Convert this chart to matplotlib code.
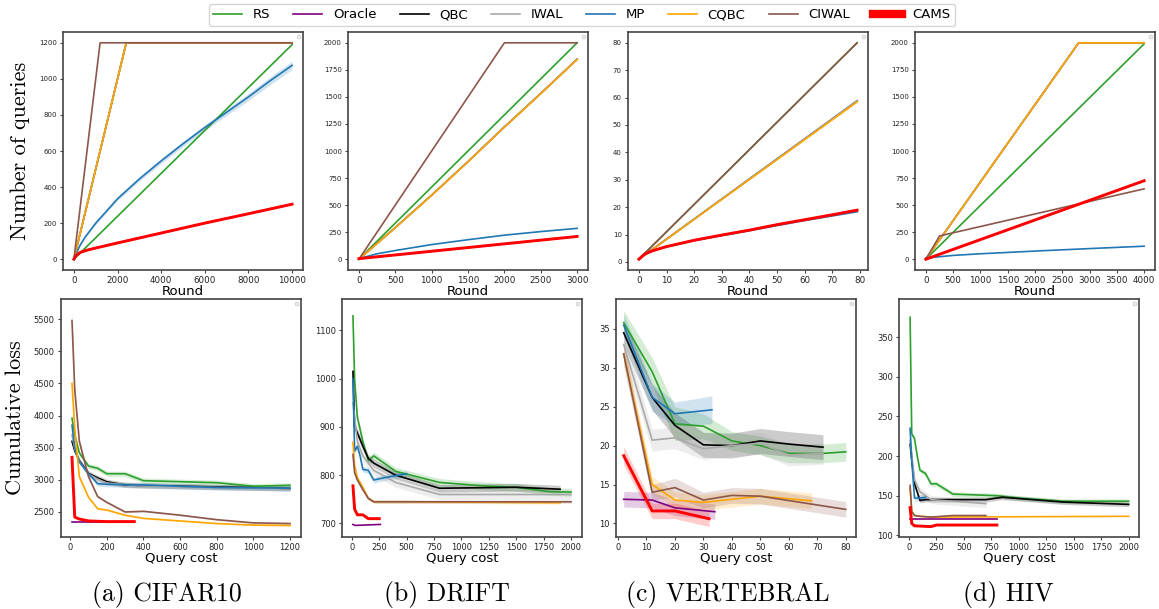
import matplotlib
matplotlib.use("Agg")
from matplotlib import pyplot as plt
from matplotlib.lines import Line2D
import numpy as np

methods = ["RS", "Oracle", "QBC", "IWAL", "MP", "CQBC", "CIWAL", "CAMS"]
colors = {"RS": "tab:green", "Oracle": "purple", "QBC": "black", "IWAL": "darkgray",
          "MP": "tab:blue", "CQBC": "orange", "CIWAL": "tab:brown", "CAMS": "red"}
captions = ["(a) CIFAR10", "(b) DRIFT", "(c) VERTEBRAL", "(d) HIV"]

# ---- top row: number of queries vs round ----
cifar_queries = {
    "RS": ([0, 10000], [0, 1190]),
    "Oracle": ([0, 100, 300, 600, 1000, 2000, 4000, 6000, 8000, 10000], [0, 20, 38, 50, 62, 90, 145, 200, 252, 305]),
    "QBC": ([0, 2400, 10000], [0, 1200, 1200]),
    "IWAL": ([0, 2400, 10000], [0, 1200, 1200]),
    "MP": ([0, 250, 500, 1000, 2000, 3000, 4000, 5000, 6000, 7000, 8000, 9000, 10000],
           [0, 70, 120, 200, 335, 445, 545, 640, 730, 815, 900, 990, 1075]),
    "CQBC": ([0, 2400, 10000], [0, 1200, 1200]),
    "CIWAL": ([0, 1200, 10000], [0, 1200, 1200]),
    "CAMS": ([0, 100, 300, 600, 1000, 2000, 4000, 6000, 8000, 10000], [0, 20, 38, 50, 62, 90, 145, 200, 252, 305]),
}
cifar_queries_band = {"MP": [0, 3, 5, 8, 10, 12, 14, 15, 16, 18, 20, 22, 24]}

drift_queries = {
    "RS": ([0, 3000], [0, 2000]),
    "Oracle": ([0, 3000], [5, 210]),
    "QBC": ([0, 500, 1000, 1500, 2000, 2500, 3000], [0, 292, 592, 902, 1222, 1532, 1848]),
    "IWAL": ([0, 500, 1000, 1500, 2000, 2500, 3000], [0, 292, 592, 902, 1222, 1532, 1848]),
    "MP": ([0, 250, 500, 1000, 1500, 2000, 2500, 3000], [5, 50, 80, 135, 180, 222, 255, 285]),
    "CQBC": ([0, 500, 1000, 1500, 2000, 2500, 3000], [0, 290, 590, 900, 1220, 1530, 1845]),
    "CIWAL": ([0, 2000, 3000], [0, 2000, 2000]),
    "CAMS": ([0, 3000], [5, 210]),
}

vert_queries = {
    "RS": ([0, 79], [1, 80]),
    "Oracle": ([0, 2, 5, 10, 20, 30, 40, 50, 60, 70, 79], [1, 2.8, 4.1, 5.6, 7.9, 9.8, 11.6, 13.6, 15.4, 17.2, 18.9]),
    "QBC": ([0, 79], [1, 58.8]),
    "IWAL": ([0, 79], [1, 58.8]),
    "MP": ([0, 2, 5, 10, 20, 30, 40, 50, 60, 70, 79], [1, 2.8, 4.0, 5.5, 7.8, 9.6, 11.4, 13.3, 15.1, 16.8, 18.3]),
    "CQBC": ([0, 79], [1, 58.4]),
    "CIWAL": ([0, 79], [1, 80]),
    "CAMS": ([0, 2, 5, 10, 20, 30, 40, 50, 60, 70, 79], [1, 2.8, 4.1, 5.6, 7.9, 9.8, 11.6, 13.6, 15.4, 17.2, 18.9]),
}

hiv_queries = {
    "RS": ([0, 4000], [0, 1990]),
    "Oracle": ([0, 4000], [0, 725]),
    "QBC": ([0, 2800, 4000], [0, 2000, 2000]),
    "IWAL": ([0, 2800, 4000], [0, 2000, 2000]),
    "MP": ([0, 500, 1000, 2000, 3000, 4000], [10, 35, 50, 75, 98, 120]),
    "CQBC": ([0, 2800, 4000], [0, 2000, 2000]),
    "CIWAL": ([0, 250, 4000], [0, 215, 650]),
    "CAMS": ([0, 4000], [0, 725]),
}

# ---- bottom row: cumulative loss vs query cost ----
cifar_loss = {
    "RS": ([10, 25, 50, 100, 150, 200, 300, 400, 800, 1000, 1200],
           [3960, 3700, 3420, 3215, 3180, 3095, 3095, 2987, 2955, 2900, 2915]),
    "Oracle": ([10, 350], [2340, 2340]),
    "QBC": ([10, 25, 50, 100, 150, 200, 300, 400, 800, 1200],
            [3600, 3450, 3300, 3100, 3030, 2970, 2920, 2910, 2890, 2865]),
    "IWAL": ([10, 25, 50, 100, 150, 200, 400, 800, 1200],
             [3700, 3480, 3290, 3090, 3010, 2950, 2905, 2880, 2860]),
    "MP": ([10, 25, 50, 100, 150, 200, 400, 800, 1200],
           [3850, 3500, 3280, 3100, 2940, 2930, 2920, 2880, 2870]),
    "CQBC": ([10, 25, 50, 100, 150, 200, 300, 400, 600, 800, 1000, 1200],
             [4500, 3800, 3050, 2730, 2550, 2530, 2450, 2400, 2360, 2320, 2295, 2290]),
    "CIWAL": ([10, 25, 50, 100, 150, 200, 300, 400, 600, 800, 1000, 1200],
              [5480, 4400, 3600, 3050, 2740, 2650, 2500, 2510, 2450, 2380, 2330, 2320]),
    "CAMS": ([10, 25, 50, 100, 200, 350], [3350, 2420, 2390, 2360, 2350, 2350]),
}
cifar_loss_band = {
    "RS": 40, "QBC": 40, "IWAL": 35, "MP": 40, "CQBC": [200, 80, 40, 20, 15, 15, 10, 10, 10, 10, 10, 10],
    "CIWAL": [170, 100, 60, 30, 20, 15, 15, 10, 10, 10, 10, 10],
}

drift_loss = {
    "RS": ([10, 25, 50, 100, 150, 200, 400, 800, 1200, 1500, 1800, 2000],
           [1130, 1000, 920, 870, 830, 840, 808, 785, 778, 775, 766, 765]),
    "Oracle": ([10, 30, 260], [698, 696, 698]),
    "QBC": ([10, 25, 50, 100, 150, 200, 400, 800, 1500, 1900],
            [1015, 900, 888, 860, 835, 825, 800, 773, 775, 771]),
    "IWAL": ([10, 50, 100, 200, 400, 800, 2000], [950, 870, 840, 810, 785, 760, 760]),
    "MP": ([10, 25, 50, 75, 100, 150, 200, 300, 500],
           [1000, 850, 860, 840, 812, 810, 790, 795, 803]),
    "CQBC": ([10, 25, 50, 100, 150, 200, 500, 1900], [868, 820, 795, 775, 752, 745, 745, 743]),
    "CIWAL": ([10, 25, 50, 100, 150, 200, 2000], [843, 805, 790, 770, 752, 745, 745]),
    "CAMS": ([10, 25, 50, 100, 150, 250], [778, 730, 718, 718, 710, 710]),
}
drift_loss_band = {"RS": 8, "QBC": 8, "IWAL": 10, "MP": 6, "CQBC": 3, "CIWAL": 3}

vert_loss = {
    "RS": ([2, 12, 20, 30, 40, 50, 60, 72, 80], [35.8, 29.5, 22.8, 22.5, 20.6, 20.0, 19.0, 19.0, 19.2]),
    "Oracle": ([2, 12, 20, 34], [13.1, 13.0, 12.0, 11.5]),
    "QBC": ([2, 12, 20, 30, 40, 50, 60, 72], [34.5, 26.2, 22.6, 20.1, 20.0, 20.6, 20.2, 19.8]),
    "IWAL": ([2, 12, 20, 30, 40, 50, 60, 72], [33.0, 20.7, 21.0, 19.6, 20.0, 20.3, 18.8, 19.0]),
    "MP": ([2, 12, 20, 33], [35.5, 26.2, 24.1, 24.6]),
    "CQBC": ([2, 12, 20, 30, 40, 50, 68], [31.8, 15.0, 13.0, 12.7, 13.1, 13.5, 12.9]),
    "CIWAL": ([2, 12, 20, 30, 40, 50, 80], [31.8, 14.0, 14.6, 13.0, 13.6, 13.5, 11.8]),
    "CAMS": ([2, 12, 20, 32], [18.7, 11.6, 11.6, 10.6]),
}
vert_loss_band = {
    "RS": [1.6, 1.8, 2.2, 1.6, 1.2, 1.2, 1.2, 1.2, 1.2], "Oracle": 1.0, "QBC": 1.6,
    "IWAL": 1.4, "MP": [1.4, 1.8, 1.5, 1.8], "CQBC": [1.5, 1.0, 1.0, 1.0, 1.0, 1.0, 1.0],
    "CIWAL": [1.5, 1.0, 1.2, 1.0, 1.0, 1.0, 1.0], "CAMS": [1.2, 1.0, 1.0, 1.0],
}

hiv_loss = {
    "RS": ([10, 25, 50, 75, 100, 150, 200, 250, 400, 800, 1000, 1400, 2000],
           [375, 228, 222, 200, 182, 178, 165, 165, 152, 150, 147, 143, 143]),
    "Oracle": ([10, 800], [120, 120]),
    "QBC": ([10, 25, 50, 100, 150, 300, 700, 850, 1400, 2000], [215, 195, 165, 144, 145, 145, 145, 148, 142, 139]),
    "IWAL": ([10, 50, 100, 200, 700], [220, 170, 155, 145, 140]),
    "MP": ([10, 25, 50, 100, 150], [235, 195, 147, 147, 148]),
    "CQBC": ([10, 25, 50, 100, 200, 2000], [160, 130, 125, 124, 123, 124]),
    "CIWAL": ([10, 25, 50, 100, 200, 400, 700], [163, 130, 125, 124, 123, 125, 125]),
    "CAMS": ([10, 25, 50, 200, 250, 800], [135, 115, 112, 111, 113, 113]),
}
hiv_loss_band = {"RS": 3, "QBC": 3, "IWAL": 5, "MP": 4}

top_data = [cifar_queries, drift_queries, vert_queries, hiv_queries]
top_bands = [cifar_queries_band, {}, {}, {}]
bottom_data = [cifar_loss, drift_loss, vert_loss, hiv_loss]
bottom_bands = [cifar_loss_band, drift_loss_band, vert_loss_band, hiv_loss_band]

top_xticks = [np.arange(0, 10001, 2000), np.arange(0, 3001, 500), np.arange(0, 81, 10), np.arange(0, 4001, 500)]
top_yticks = [np.arange(0, 1201, 200), np.arange(0, 2001, 250), np.arange(0, 81, 10), np.arange(0, 2001, 250)]
bottom_xticks = [np.arange(0, 1201, 200), np.arange(0, 2001, 250), np.arange(0, 81, 10), np.arange(0, 2001, 250)]
bottom_yticks = [np.arange(2500, 5501, 500), np.arange(700, 1101, 100), np.arange(10, 36, 5), np.arange(100, 351, 50)]
bottom_xlim = [(-50, 1260), (-90, 2100), (-0.7, 83.6), (-91, 2094)]
bottom_ylim = [(2110, 5815), (672, 1165), (8.25, 38.85), (97.9, 398)]

W, H = 1159, 609
top_left = [63, 348, 628, 915]
bottom_left = [61, 342, 616, 899]
axw = 240


def style_axes(ax, xfs, yfs):
    for s in ax.spines.values():
        s.set_color("#444444")
        s.set_linewidth(1.2)
    ax.tick_params(axis="x", labelsize=xfs, length=2.5, width=0.8, pad=2, colors="#444444", labelcolor="#222222")
    ax.tick_params(axis="y", labelsize=yfs, length=2.5, width=0.8, pad=2, colors="#444444", labelcolor="#222222")
    ax.legend(handles=[], loc="upper right", fontsize=4, borderpad=0.3)


def draw(ax, data, bands):
    for m in methods:
        if m not in data:
            continue
        x, y = np.array(data[m][0], float), np.array(data[m][1], float)
        lw = 2.1 if m == "CAMS" else 1.2
        ax.plot(x, y, color=colors[m], lw=lw, zorder=3 if m == "CAMS" else 2)
        if m in bands:
            b = np.broadcast_to(np.array(bands[m], float), y.shape)
            ax.fill_between(x, y - b, y + b, color=colors[m], alpha=0.2, lw=0)


fig = plt.figure(figsize=(W / 100, H / 100), dpi=100)

for i in range(4):
    ax = fig.add_axes([top_left[i] / W, 1 - 270 / H, axw / W, 238 / H])
    draw(ax, top_data[i], top_bands[i])
    ax.set_xticks(top_xticks[i])
    ax.set_yticks(top_yticks[i])
    ax.set_xlabel("Round", fontsize=9.5, labelpad=0)
    style_axes(ax, 6.3, 5)
    if i == 0:
        ax.set_ylabel("Number of queries", fontsize=16, family="cmr10", labelpad=6)

for i in range(4):
    ax = fig.add_axes([bottom_left[i] / W, 1 - 537 / H, axw / W, 238 / H])
    draw(ax, bottom_data[i], bottom_bands[i])
    ax.set_xticks(bottom_xticks[i])
    ax.set_yticks(bottom_yticks[i])
    ax.set_xlim(*bottom_xlim[i])
    ax.set_ylim(*bottom_ylim[i])
    ax.set_xlabel("Query cost", fontsize=9.5, labelpad=0)
    style_axes(ax, 6, 6)
    if i == 0:
        ax.set_ylabel("Cumulative loss", fontsize=16, family="cmr10", labelpad=6)

cap_x = [167, 447, 728, 1008]
for cx, cap in zip(cap_x, captions):
    fig.text(cx / W, 1 - 595 / H, cap, fontsize=18.5, family="cmr10", ha="center", va="center")

handles = [Line2D([], [], color=colors[m], lw=6 if m == "CAMS" else 1.2) for m in methods]
fig.legend(handles, methods, loc="center", bbox_to_anchor=(582 / W, 1 - 15 / H), ncol=8,
           fontsize=9.5, frameon=True, columnspacing=1.75, handlelength=2.2, borderpad=0.35)

fig.savefig("out.png", dpi=100)
